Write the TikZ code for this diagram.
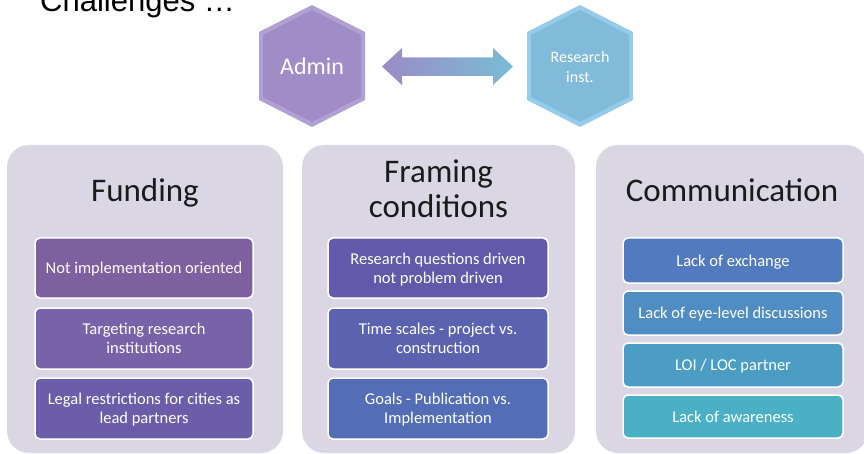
\documentclass[tikz,border=0pt]{standalone}
\usepackage{fontspec}
\setmainfont{Carlito}
\newfontfamily\arialf{Liberation Sans}
\definecolor{panelbg}{HTML}{DAD6E4}
\definecolor{fa}{HTML}{7E60A0}
\definecolor{fb}{HTML}{7862A8}
\definecolor{fc}{HTML}{6B5DAA}
\definecolor{ga}{HTML}{6259AB}
\definecolor{gb}{HTML}{5B63B1}
\definecolor{gc}{HTML}{536DB7}
\definecolor{ma}{HTML}{527BBF}
\definecolor{mb}{HTML}{4F8DC3}
\definecolor{mc}{HTML}{4B9DC4}
\definecolor{md}{HTML}{4AB0C6}
\definecolor{admin}{HTML}{A08CC6}
\definecolor{adminl}{HTML}{B0A0D4}
\definecolor{resin}{HTML}{80BCDA}
\definecolor{resinl}{HTML}{96CCE8}
\definecolor{arrl}{HTML}{9A8CC6}
\definecolor{arrm}{HTML}{D6CAEC}
\definecolor{arrr}{HTML}{7ABCD6}
\definecolor{titlec}{HTML}{1A1A1A}
\tikzset{
  panel/.style={fill=panelbg, draw=none, rounded corners=22pt, inner sep=0pt},
  item/.style={draw=white, line width=1.5pt, rounded corners=5pt, text=white,
    font=\fontsize{16.5}{19}\selectfont, align=center, inner sep=0pt, text depth=0pt},
  ptitle/.style={text=titlec, font=\fontsize{33}{35}\selectfont, align=center, anchor=base, inner sep=0pt},
  hextext/.style={text=white, align=center, inner sep=0pt}
}
\begin{document}
\begin{tikzpicture}[x=1pt,y=-1pt]
\useasboundingbox (0,0) rectangle (864,454);
% title (cut off at top)
\node[anchor=base west, inner sep=0pt, font=\arialf\fontsize{31}{35}\selectfont] (title) at (40,11.5) {Challenges …};
% hexagons
\fill[adminl] (312,5) -- (365,32) -- (365,100) -- (312,127) -- (259,100) -- (259,32) -- cycle;
\fill[admin] (312,10) -- (361,35) -- (361,97) -- (312,122) -- (263,97) -- (263,35) -- cycle;
\node[hextext, font=\fontsize{24}{28}\selectfont] (admin) at (312,66) {Admin};
\fill[resinl] (580,5) -- (633,32) -- (633,100) -- (580,127) -- (527,100) -- (527,32) -- cycle;
\fill[resin] (580,10) -- (629,35) -- (629,97) -- (580,122) -- (531,97) -- (531,35) -- cycle;
\node[hextext, font=\fontsize{16}{20}\selectfont] (res) at (580,67) {Research\\inst.};
% double arrow
\shade[left color=arrl, middle color=arrm, right color=arrr]
  (382,66.5) -- (402,48) -- (402,57.5) -- (493,57.5) -- (493,48) -- (513,66.5) -- (493,85) -- (493,76) -- (402,76) -- (402,85) -- cycle;
% panels
\node[panel, minimum width=276pt, minimum height=308pt] (p1) at (145,299) {};
\node[panel, minimum width=273pt, minimum height=308pt] (p2) at (438.5,299) {};
\node[panel, minimum width=272pt, minimum height=308pt] (p3) at (732,299) {};
% titles
\node[ptitle] (t1) at (145,202) {Funding};
\node[ptitle] (t2) at (438.5,218) {Framing\\conditions};
\node[ptitle] (t3) at (732,202) {Communication};
% funding items
\node[item, fill=fa, minimum width=218pt, minimum height=60pt] (f1) at (144,268) {Not implementation oriented};
\node[item, fill=fb, minimum width=218pt, minimum height=61pt] (f2) at (144,338.5) {Targeting research\\institutions};
\node[item, fill=fc, minimum width=218pt, minimum height=61pt] (f3) at (144,408.5) {Legal restrictions for cities as\\lead partners};
% framing items
\node[item, fill=ga, minimum width=220pt, minimum height=60pt] (g1) at (438,268) {Research questions driven\\not problem driven};
\node[item, fill=gb, minimum width=220pt, minimum height=61pt] (g2) at (438,338.5) {Time scales - project vs.\\construction};
\node[item, fill=gc, minimum width=220pt, minimum height=61pt] (g3) at (438,408.5) {Goals - Publication vs.\\Implementation};
% communication items
\node[item, fill=ma, minimum width=220pt, minimum height=45pt] (m1) at (733,260.5) {Lack of exchange};
\node[item, fill=mb, minimum width=220pt, minimum height=44pt] (m2) at (733,313) {Lack of eye-level discussions};
\node[item, fill=mc, minimum width=220pt, minimum height=44pt] (m3) at (733,365) {LOI / LOC partner};
\node[item, fill=md, minimum width=220pt, minimum height=43pt] (m4) at (733,416.5) {Lack of awareness};
\end{tikzpicture}
\end{document}
